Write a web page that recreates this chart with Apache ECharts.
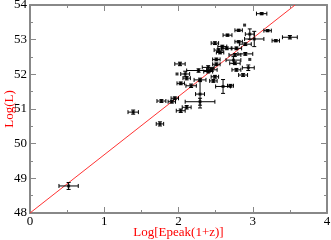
<!DOCTYPE html>
<html><head><meta charset="utf-8">
<script src="https://cdn.jsdelivr.net/npm/echarts@6/dist/echarts.min.js"></script>
<style>html,body{margin:0;padding:0;background:#fff}#c{width:331px;height:240px}</style>
</head><body><div id="c"></div>
<script>
var xs   = [3.12,2.89,2.81,2.66,2.96,3.20,3.50,3.31,3.02,2.49,2.81,2.90,2.59,2.65,2.54,2.56,2.78,2.90,2.76,2.51,2.74,2.96,2.76,2.51,2.02,2.94,2.78,2.45,2.40,2.27,1.98,2.09,2.11,2.49,2.87,2.47,2.29,2.03,2.17,2.29,2.60,1.95,1.91,2.29,2.11,2.03,1.39,1.77,0.52,1.75,2.40,2.70];
var ys   = [53.75,53.42,53.27,53.13,53.16,53.26,53.07,52.97,53.02,52.90,52.94,52.87,52.80,52.75,52.70,52.63,52.75,52.59,52.56,52.43,52.41,52.43,52.32,52.29,52.30,52.19,52.13,52.13,52.08,52.11,52.01,52.01,51.89,51.93,51.98,51.81,51.84,51.74,51.67,51.43,51.65,51.31,51.21,51.21,51.05,50.95,50.91,51.23,48.78,50.57,52.20,51.67];
var xerr = [0.07,0.00,0.05,0.06,0.06,0.05,0.10,0.05,0.13,0.05,0.05,0.08,0.06,0.07,0.06,0.05,0.07,0.10,0.08,0.05,0.10,0.00,0.07,0.05,0.07,0.08,0.06,0.07,0.06,0.16,0.00,0.06,0.05,0.05,0.06,0.05,0.08,0.05,0.07,0.06,0.10,0.05,0.05,0.20,0.06,0.06,0.07,0.06,0.13,0.05,0.08,0.04];
var yerr = [0.03,0.00,0.03,0.03,0.15,0.03,0.05,0.03,0.22,0.04,0.03,0.04,0.04,0.04,0.04,0.04,0.04,0.04,0.04,0.04,0.10,0.00,0.04,0.04,0.05,0.08,0.04,0.04,0.04,0.05,0.00,0.08,0.05,0.04,0.04,0.04,0.05,0.04,0.05,0.40,0.20,0.04,0.04,0.10,0.05,0.05,0.06,0.04,0.10,0.06,0.05,0.04];
var lineX = [0, 3.57];
var lineY = [48, 54];
var xTicks = [0,1,2,3,4];
var yTicks = [48,49,50,51,52,53,54];

var serif = 'Liberation Serif';
var pts = xs.map(function(x,i){return [x, ys[i], xerr[i], yerr[i]];});
var chart = echarts.init(document.getElementById('c'));
function ax(extra){
  return Object.assign({
    axisLine:{show:true,onZero:false,lineStyle:{color:'#888',width:2}},
    axisTick:{show:true,inside:true,length:6,lineStyle:{color:'#888',width:1}},
    minorTick:{show:true,splitNumber:2,length:3,lineStyle:{color:'#888'}},
    splitLine:{show:false},
    nameMoveOverlap:false,
    axisLabel:{color:'#000',fontFamily:serif,fontSize:13}
  }, extra);
}
chart.setOption({
  animation:false,
  grid:{left:30,right:4,top:5,bottom:27,containLabel:false,outerBoundsMode:'none'},
  xAxis:[ax({type:'value',min:xTicks[0],max:xTicks[xTicks.length-1],interval:1,position:'bottom',
      name:'Log[Epeak(1+z)]',nameLocation:'middle',nameGap:13,
      nameTextStyle:{color:'#f00',fontFamily:serif,fontSize:13},
      axisLabel:{color:'#000',fontFamily:serif,fontSize:13,margin:2}}),
    ax({type:'value',min:0,max:4,interval:1,position:'top',axisLabel:{show:false}})],
  yAxis:[ax({type:'value',min:yTicks[0],max:yTicks[yTicks.length-1],interval:1,position:'left',
      name:'Log(L)',nameLocation:'middle',nameGap:14,
      nameTextStyle:{color:'#f00',fontFamily:serif,fontSize:13},
      axisLabel:{color:'#000',fontFamily:serif,fontSize:13,margin:3}}),
    ax({type:'value',min:48,max:54,interval:1,position:'right',axisLabel:{show:false}})],
  series:[
    {type:'line',data:lineX.map(function(x,i){return [x,lineY[i]];}),symbol:'none',
     lineStyle:{color:'#f33',width:1},z:3},
    {type:'custom',data:pts,z:4,
     renderItem:function(params,api){
       var x=api.value(0),y=api.value(1),ex=api.value(2),ey=api.value(3);
       var c=[], cap=2;
       var l=api.coord([x-ex,y]), r=api.coord([x+ex,y]);
       var b=api.coord([x,y-ey]), t=api.coord([x,y+ey]);
       var st={stroke:'#000',lineWidth:1};
       if(ex>0){
         c.push({type:'line',shape:{x1:l[0],y1:l[1],x2:r[0],y2:r[1]},style:st});
         c.push({type:'line',shape:{x1:l[0],y1:l[1]-cap,x2:l[0],y2:l[1]+cap},style:st});
         c.push({type:'line',shape:{x1:r[0],y1:r[1]-cap,x2:r[0],y2:r[1]+cap},style:st});
       }
       if(ey>0){
         c.push({type:'line',shape:{x1:b[0],y1:b[1],x2:t[0],y2:t[1]},style:st});
         c.push({type:'line',shape:{x1:b[0]-cap,y1:b[1],x2:b[0]+cap,y2:b[1]},style:st});
         c.push({type:'line',shape:{x1:t[0]-cap,y1:t[1],x2:t[0]+cap,y2:t[1]},style:st});
       }
       return {type:'group',children:c};
     }},
    {type:'scatter',data:pts.map(function(p){return [p[0],p[1]];}),symbol:'rect',symbolSize:3,
     itemStyle:{color:'#000'},z:5}
  ]
});
</script></body></html>
